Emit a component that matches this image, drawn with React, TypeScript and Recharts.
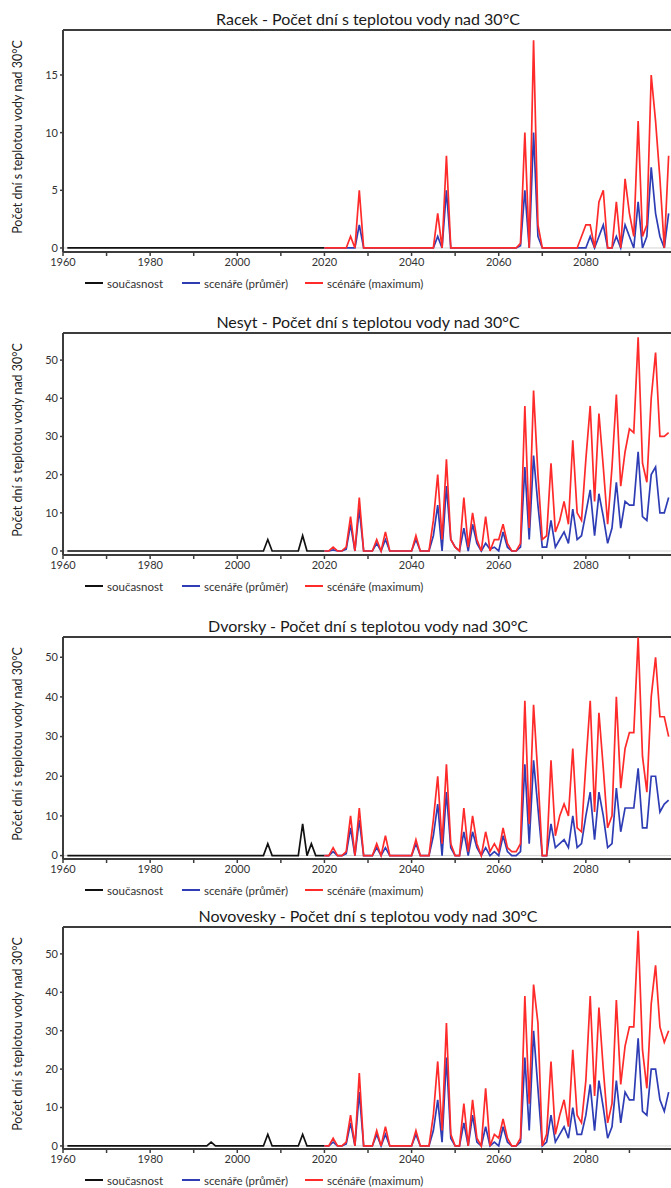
import React from 'react'
import { LineChart, Line, XAxis, YAxis, ReferenceLine } from 'recharts'

// years: present state 1961-2020, scenarios 2020-2099
const presentYears = Array.from({ length: 60 }, (_, i) => 1961 + i)
const scenarioYears = Array.from({ length: 80 }, (_, i) => 2020 + i)
const xTicks = [1960, 1970, 1980, 1990, 2000, 2010, 2020, 2030, 2040, 2050, 2060, 2070, 2080, 2090]

const racekPresent = [
  0, 0, 0, 0, 0, 0, 0, 0, 0, 0,
  0, 0, 0, 0, 0, 0, 0, 0, 0, 0,
  0, 0, 0, 0, 0, 0, 0, 0, 0, 0,
  0, 0, 0, 0, 0, 0, 0, 0, 0, 0,
  0, 0, 0, 0, 0, 0, 0, 0, 0, 0,
  0, 0, 0, 0, 0, 0, 0, 0, 0, 0,
]
const racekMean = [
  0, 0, 0, 0, 0, 0, 0, 0, 2, 0,
  0, 0, 0, 0, 0, 0, 0, 0, 0, 0,
  0, 0, 0, 0, 0, 0, 1, 0, 5, 0,
  0, 0, 0, 0, 0, 0, 0, 0, 0, 0,
  0, 0, 0, 0, 0, 0.2, 5, 0, 10, 1,
  0, 0, 0, 0, 0, 0, 0, 0, 0, 0,
  0, 1, 0, 1, 2, 0, 0, 1, 0, 2,
  1, 0, 4, 0, 1, 7, 3, 1, 0, 3,
]
const racekMax = [
  0, 0, 0, 0, 0, 0, 1, 0, 5, 0,
  0, 0, 0, 0, 0, 0, 0, 0, 0, 0,
  0, 0, 0, 0, 0, 0, 3, 0, 8, 0,
  0, 0, 0, 0, 0, 0, 0, 0, 0, 0,
  0, 0, 0, 0, 0, 0.4, 10, 0, 18, 2,
  0, 0, 0, 0, 0, 0, 0, 0, 0, 1,
  2, 2, 0, 4, 5, 0, 0, 4, 0, 6,
  3, 1, 11, 1, 2, 15, 11, 6, 0, 8,
]

const nesytPresent = [
  0, 0, 0, 0, 0, 0, 0, 0, 0, 0,
  0, 0, 0, 0, 0, 0, 0, 0, 0, 0,
  0, 0, 0, 0, 0, 0, 0, 0, 0, 0,
  0, 0, 0, 0, 0, 0, 0, 0, 0, 0,
  0, 0, 0, 0, 0, 0, 3, 0, 0, 0,
  0, 0, 0, 0, 4, 0, 0, 0, 0, 0,
]
const nesytMean = [
  0, 0, 0.3, 0, 0, 0.5, 7, 0, 11, 0,
  0, 0, 2, 0, 3, 0, 0, 0, 0, 0,
  0, 3, 0, 0, 0, 4, 12, 0, 17, 3,
  1, 0, 6, 0, 7, 2, 0, 2, 0.5, 1,
  0, 5, 1, 0, 0, 1, 22, 3, 25, 12,
  1, 1, 8, 1, 3, 5, 2, 11, 3, 4,
  10, 16, 4, 15, 9, 2, 6, 18, 6, 13,
  12, 12, 26, 9, 8, 20, 22, 10, 10, 14,
]
const nesytMax = [
  0, 0, 1, 0, 0, 1, 9, 0, 14, 0,
  0, 0, 3, 0, 5, 0, 0, 0, 0, 0,
  0, 4, 0, 0, 0, 8, 20, 3, 24, 3,
  1, 0, 14, 1, 10, 3, 0, 9, 0, 3,
  3, 7, 2, 0, 0, 2, 38, 6, 42, 20,
  3, 4, 23, 5, 8, 13, 7, 29, 10, 8,
  24, 38, 13, 36, 22, 7, 22, 41, 17, 26,
  32, 31, 56, 23, 18, 40, 52, 30, 30, 31,
]

const dvorskyPresent = [
  0, 0, 0, 0, 0, 0, 0, 0, 0, 0,
  0, 0, 0, 0, 0, 0, 0, 0, 0, 0,
  0, 0, 0, 0, 0, 0, 0, 0, 0, 0,
  0, 0, 0, 0, 0, 0, 0, 0, 0, 0,
  0, 0, 0, 0, 0, 0, 3, 0, 0, 0,
  0, 0, 0, 0, 8, 0, 3, 0, 0, 0,
]
const dvorskyMean = [
  0, 0, 1, 0, 0, 0.5, 7, 0, 9, 0,
  0, 0, 2, 0, 2, 0, 0, 0, 0, 0,
  0, 3, 0, 0, 0, 5, 13, 0, 16, 2,
  0, 0, 6, 0, 6, 2, 0, 2, 0, 1,
  0, 5, 1, 0, 0, 1, 23, 3, 24, 12,
  0, 0, 8, 2, 3, 4, 2, 10, 2, 3,
  10, 16, 4, 16, 10, 2, 3, 17, 6, 12,
  12, 12, 22, 7, 7, 20, 20, 11, 13, 14,
]
const dvorskyMax = [
  0, 0, 2, 0, 0, 1, 10, 0, 12, 0,
  0, 0, 3, 0, 5, 0, 0, 0, 0, 0,
  0, 4, 0, 0, 0, 9, 20, 3, 23, 3,
  0, 0, 12, 1, 10, 3, 0, 6, 1, 3,
  1, 7, 2, 1, 1, 3, 39, 8, 38, 20,
  0, 0, 24, 5, 10, 13, 10, 27, 7, 6,
  23, 39, 11, 36, 22, 7, 10, 40, 17, 27,
  31, 31, 55, 25, 16, 40, 50, 35, 35, 30,
]

const novoveskyPresent = [
  0, 0, 0, 0, 0, 0, 0, 0, 0, 0,
  0, 0, 0, 0, 0, 0, 0, 0, 0, 0,
  0, 0, 0, 0, 0, 0, 0, 0, 0, 0,
  0, 0, 0, 1, 0, 0, 0, 0, 0, 0,
  0, 0, 0, 0, 0, 0, 3, 0, 0, 0,
  0, 0, 0, 0, 3, 0, 0, 0, 0, 0,
]
const novoveskyMean = [
  0, 0, 1, 0, 0, 0.5, 6, 0, 14, 0,
  0, 0, 3, 0, 3, 0, 0, 0, 0, 0,
  0, 3, 0, 0, 0, 4, 12, 1, 23, 2,
  0, 0, 6, 0, 8, 1, 0, 5, 0, 1,
  0, 5, 1, 0, 0, 1, 23, 4, 30, 15,
  0, 1, 8, 1, 3, 5, 2, 10, 3, 3,
  8, 16, 4, 17, 10, 2, 5, 17, 6, 14,
  12, 12, 28, 9, 8, 20, 20, 12, 9, 14,
]
const novoveskyMax = [
  0, 0, 2, 0, 0, 1, 8, 0, 19, 0,
  0, 0, 4, 0, 5, 0, 0, 0, 0, 0,
  0, 4, 0, 0, 0, 8, 22, 4, 32, 3,
  0, 0, 11, 0, 12, 2, 0, 15, 0, 3,
  2, 7, 2, 0, 0, 2, 39, 11, 42, 32,
  0, 3, 22, 3, 8, 12, 5, 25, 8, 6,
  17, 39, 13, 36, 20, 6, 11, 38, 16, 26,
  31, 31, 56, 25, 15, 37, 47, 31, 27, 30,
]

const BLACK = '#111111'
const BLUE = '#2f3db5'
const RED = '#ff2a2a'
const FRAME = '#3c3c3c'
const FONT = 'Lato, "Open Sans", sans-serif'

function buildRows(present: number[], mean: number[], max: number[]) {
  const rows: any[] = []
  for (let y = 1961; y <= 2099; y++) {
    const pi = presentYears.indexOf(y)
    const si = scenarioYears.indexOf(y)
    rows.push({
      year: y,
      present: pi >= 0 ? present[pi] : null,
      mean: si >= 0 ? mean[si] : null,
      max: si >= 0 ? max[si] : null,
    })
  }
  return rows
}

function Panel({ title, plotTop, present, mean, max, yDomain, yTicks }: any) {
  const rows = buildRows(present, mean, max)
  const plotBottom = plotTop + 222
  const legendItems = [
    { label: 'současnost', color: BLACK, x: 85 },
    { label: 'scenáře (průměr)', color: BLUE, x: 182 },
    { label: 'scénáře (maximum)', color: RED, x: 305 },
  ]
  return (
    <>
      <div
        style={{
          position: 'absolute', left: 63, width: 610, top: plotTop - 21, lineHeight: '20px',
          textAlign: 'center', fontSize: 16, color: '#1a1a1a', whiteSpace: 'nowrap',
        }}
      >
        {title}
      </div>
      <div
        style={{
          position: 'absolute', left: 17, top: plotTop + 107, fontSize: 12.5, color: '#222',
          whiteSpace: 'nowrap', transform: 'translate(-50%, -50%) rotate(-90deg)',
        }}
      >
        Počet dní s teplotou vody nad 30°C
      </div>
      <div style={{ position: 'absolute', left: 0, top: plotTop - 5 }}>
        <LineChart width={700} height={252} data={rows} margin={{ top: 5, right: 27, bottom: 0, left: 0 }}>
          <XAxis
            dataKey="year"
            type="number"
            domain={[1960, 2100]}
            ticks={xTicks}
            allowDataOverflow
            tickFormatter={(v: number) => (v % 20 === 0 ? String(v) : '')}
            height={25}
            tickSize={4}
            axisLine={{ stroke: FRAME, strokeWidth: 2 }}
            tickLine={{ stroke: FRAME, strokeWidth: 1.5 }}
            tick={{ fontSize: 11, fill: '#333', fontFamily: FONT }}
          />
          <YAxis
            type="number"
            domain={yDomain}
            ticks={yTicks}
            allowDataOverflow
            width={63}
            tickSize={3}
            axisLine={{ stroke: FRAME, strokeWidth: 2 }}
            tickLine={{ stroke: FRAME, strokeWidth: 1.5 }}
            tick={{ fontSize: 11, fill: '#333', fontFamily: FONT }}
          />
          <ReferenceLine y={0} stroke="#d4d4d4" strokeWidth={1} />
          <ReferenceLine y={yDomain[1]} stroke={FRAME} strokeWidth={2} />
          <Line dataKey="present" stroke={BLACK} strokeWidth={1.7} dot={false} isAnimationActive={false} />
          <Line dataKey="mean" stroke={BLUE} strokeWidth={1.7} dot={false} isAnimationActive={false} />
          <Line dataKey="max" stroke={RED} strokeWidth={1.7} dot={false} isAnimationActive={false} />
        </LineChart>
      </div>
      {legendItems.map((it) => (
        <div
          key={it.label}
          style={{
            position: 'absolute', left: it.x, top: plotBottom + 23, height: 16, display: 'flex',
            alignItems: 'center', fontSize: 11.5, color: '#333', whiteSpace: 'nowrap',
          }}
        >
          <span style={{ display: 'inline-block', width: 18, height: 2, background: it.color, marginRight: 4 }} />
          {it.label}
        </div>
      ))}
    </>
  )
}

export default function App() {
  return (
    <div
      style={{
        position: 'absolute', left: 0, top: 0, width: 671, height: 1188, overflow: 'hidden',
        background: '#fff', fontFamily: FONT,
      }}
    >
      <Panel
        title="Racek - Počet dní s teplotou vody nad 30°C"
        plotTop={30}
        present={racekPresent}
        mean={racekMean}
        max={racekMax}
        yDomain={[-0.35, 18.9]}
        yTicks={[0, 5, 10, 15]}
      />
      <Panel
        title="Nesyt - Počet dní s teplotou vody nad 30°C"
        plotTop={333}
        present={nesytPresent}
        mean={nesytMean}
        max={nesytMax}
        yDomain={[-1.05, 57.1]}
        yTicks={[0, 10, 20, 30, 40, 50]}
      />
      <Panel
        title="Dvorsky - Počet dní s teplotou vody nad 30°C"
        plotTop={637}
        present={dvorskyPresent}
        mean={dvorskyMean}
        max={dvorskyMax}
        yDomain={[-0.86, 55.1]}
        yTicks={[0, 10, 20, 30, 40, 50]}
      />
      <Panel
        title="Novovesky - Počet dní s teplotou vody nad 30°C"
        plotTop={927}
        present={novoveskyPresent}
        mean={novoveskyMean}
        max={novoveskyMax}
        yDomain={[-0.8, 57.0]}
        yTicks={[0, 10, 20, 30, 40, 50]}
      />
    </div>
  )
}
